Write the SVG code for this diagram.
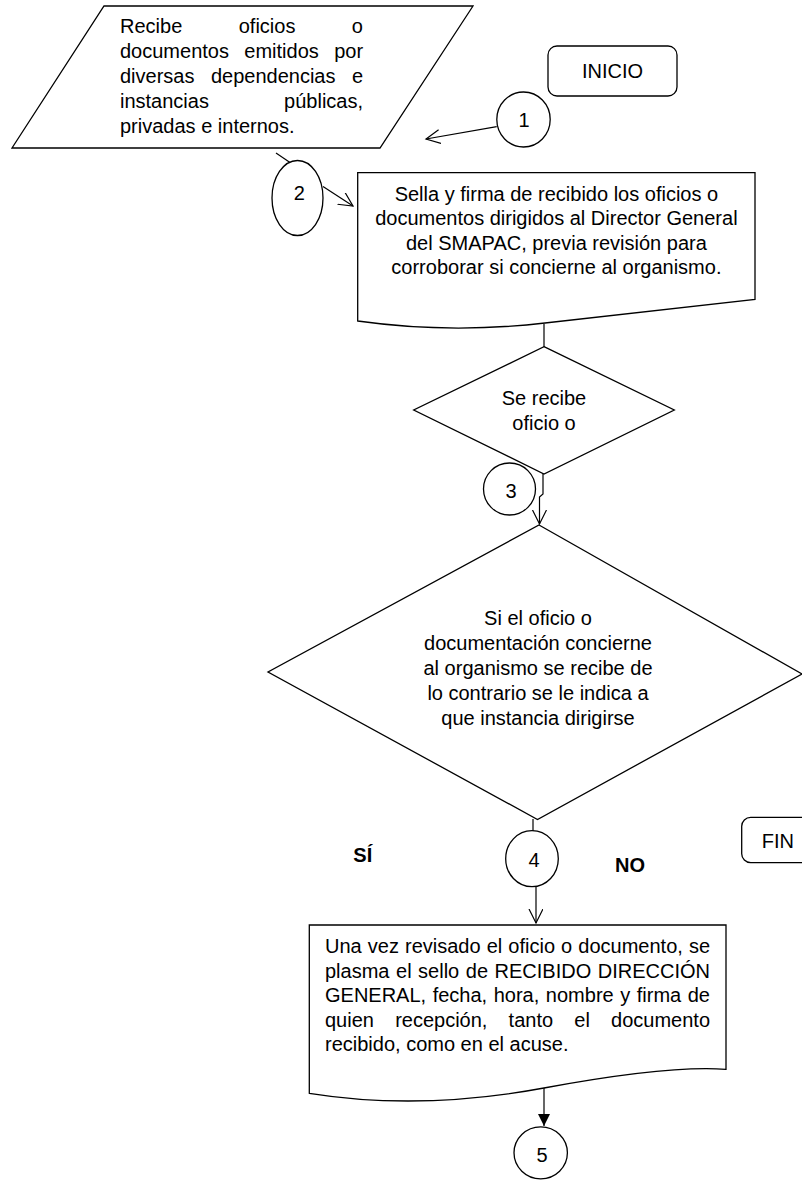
<svg xmlns="http://www.w3.org/2000/svg" width="802" height="1180" viewBox="0 0 802 1180">
<style>
.sh{fill:#fff;stroke:#000;stroke-width:1.3}
.ln{fill:none;stroke:#000;stroke-width:1.2}
.t{font-family:"Liberation Sans",Arial,sans-serif;font-size:20px;fill:#000}
.c{text-anchor:middle}
.b{font-weight:bold}
</style>
<defs>
<marker id="open" markerUnits="userSpaceOnUse" markerWidth="16" markerHeight="16" refX="14" refY="7" orient="auto">
<path d="M0,0 L14,7 L0,14" fill="none" stroke="#000" stroke-width="1.2"/>
</marker>
<marker id="solid" markerUnits="userSpaceOnUse" markerWidth="14" markerHeight="14" refX="12" refY="6" orient="auto">
<path d="M0,0 L12,6 L0,12 Z" fill="#000"/>
</marker>
</defs>
<rect width="802" height="1180" fill="#fff"/>

<g id="connectors">
<line class="ln" x1="496.7" y1="126.7" x2="426" y2="139" marker-end="url(#open)"/>
<line class="ln" x1="276" y1="153" x2="290" y2="162.5"/>
<line class="ln" x1="323" y1="186.5" x2="353" y2="206" marker-end="url(#open)"/>
<line class="ln" x1="544" y1="324" x2="544" y2="348"/>
<path class="ln" d="M543,466 V494 L539.5,497 V524" marker-end="url(#open)"/>
<line class="ln" x1="533" y1="819" x2="533" y2="831"/>
<line class="ln" x1="536" y1="887" x2="536" y2="923" marker-end="url(#open)"/>
<line class="ln" x1="544" y1="1088" x2="544" y2="1126" marker-end="url(#solid)"/>
</g>

<g id="n_input">
<polygon class="sh" points="104,6 473,6 380,148 12,148"/>
<text class="t" x="120" y="33" word-spacing="50.9">Recibe oficios o</text>
<text class="t" x="120" y="58" word-spacing="9.8">documentos emitidos por</text>
<text class="t" x="120" y="83" word-spacing="10.9">diversas dependencias e</text>
<text class="t" x="120" y="108" word-spacing="69.6">instancias públicas,</text>
<text class="t" x="120" y="132.5">privadas e internos.</text>
</g>

<g id="n_inicio">
<rect class="sh" x="548" y="46" width="129" height="50" rx="9"/>
<text class="t c" x="612.5" y="78.3">INICIO</text>
</g>

<g id="n_c1">
<ellipse class="sh" cx="523.5" cy="119.5" rx="26.7" ry="27.5"/>
<text class="t c" x="524" y="127.3">1</text>
</g>

<g id="n_c2">
<ellipse class="sh" cx="297.5" cy="198" rx="25.5" ry="37.5"/>
<text class="t c" x="299.3" y="199.5">2</text>
</g>

<g id="n_doc1">
<path class="sh" d="M357.7,172.7 H755 V299.3 Q640,312 545,323 Q450,334 357.7,321 Z"/>
<text class="t c" x="556.4" y="200.5">Sella y firma de recibido los oficios o</text>
<text class="t c" x="556.4" y="225">documentos dirigidos al Director General</text>
<text class="t c" x="556.4" y="249.5">del SMAPAC, previa revisión para</text>
<text class="t c" x="556.4" y="274">corroborar si concierne al organismo.</text>
</g>

<g id="n_dec1">
<polygon class="sh" points="544,346.7 674.3,410 544,474 413.7,410"/>
<text class="t c" x="544" y="405">Se recibe</text>
<text class="t c" x="544" y="430">oficio o</text>
</g>

<g id="n_c3">
<circle class="sh" cx="509.5" cy="489" r="26"/>
<text class="t c" x="511" y="498.3">3</text>
</g>

<g id="n_dec2">
<polygon class="sh" points="539,525 802,674 537.5,819.5 268,672"/>
<text class="t c" x="538" y="625">Si el oficio o</text>
<text class="t c" x="538" y="650">documentación concierne</text>
<text class="t c" x="538" y="675">al organismo se recibe de</text>
<text class="t c" x="538" y="700">lo contrario se le indica a</text>
<text class="t c" x="538" y="725">que instancia dirigirse</text>
</g>

<g id="n_si">
<text class="t b" x="353.3" y="861.7">SÍ</text>
</g>

<g id="n_c4">
<ellipse class="sh" cx="532" cy="858.7" rx="26.3" ry="28"/>
<text class="t c" x="534" y="866.7">4</text>
</g>

<g id="n_no">
<text class="t b" x="615" y="871.7">NO</text>
</g>

<g id="n_fin">
<rect class="sh" x="741.7" y="817.3" width="72" height="45.4" rx="9"/>
<text class="t" x="761.7" y="847.7">FIN</text>
</g>

<g id="n_doc2">
<path class="sh" d="M309.3,925 H726 V1069.3 Q668,1065 544,1088 Q420,1111 309.3,1093.3 Z"/>
<text class="t" x="325" y="953" word-spacing="0.53">Una vez revisado el oficio o documento, se</text>
<text class="t" x="325" y="977.5" word-spacing="0.98">plasma el sello de RECIBIDO DIRECCIÓN</text>
<text class="t" x="325" y="1002" word-spacing="0.99">GENERAL, fecha, hora, nombre y firma de</text>
<text class="t" x="325" y="1026.5" word-spacing="15.65">quien recepción, tanto el documento</text>
<text class="t" x="325" y="1051">recibido, como en el acuse.</text>
</g>

<g id="n_c5">
<ellipse class="sh" cx="540.7" cy="1152.8" rx="26.7" ry="26"/>
<text class="t c" x="542" y="1161.7">5</text>
</g>
</svg>
